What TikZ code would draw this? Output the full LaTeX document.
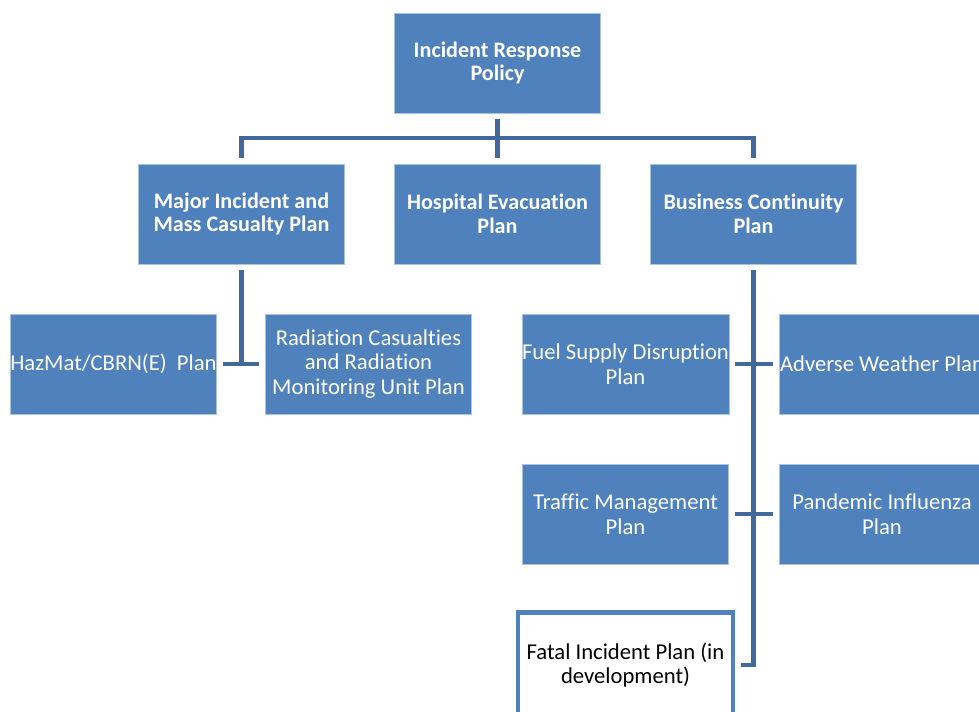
\documentclass[tikz,border=0pt]{standalone}
\usepackage{fontspec}
\setmainfont[Ligatures=NoCommon]{Carlito}
\usetikzlibrary{positioning}
\definecolor{planblue}{RGB}{79,129,189}
\definecolor{linkblue}{RGB}{65,105,158}
\definecolor{planedge}{RGB}{170,195,225}

\begin{document}
\begin{tikzpicture}[x=0.02cm,y=-0.02cm,
    plan/.style={draw=planedge,line width=0.4pt,fill=planblue,text=white,align=center,
      minimum width=4.12cm,minimum height=2cm,inner sep=0pt,
      font=\fontsize{12.9}{14}\selectfont},
    head/.style={plan,font=\bfseries\fontsize{12.6}{13.6}\selectfont},
    draft/.style={plan,draw=planblue,line width=2.3pt,fill=white,text=black,
      minimum width=4.3cm,minimum height=2.1cm},
    link/.style={draw=linkblue,line width=2.3pt,shorten <=3.4pt,shorten >=3.4pt}]
  \clip (0,0) rectangle (979,712);
  % top of the tree
  \node[head] (policy) at (497.5,63) {Incident Response\\Policy};
  \node[head] (major) at (241.5,214) {Major Incident and\\Mass Casualty Plan};
  \node[head] (hospital) at (497.5,214) {Hospital Evacuation\\Plan};
  \node[head] (continuity) at (753.5,214) {Business Continuity\\Plan};
  % plans under major incident
  \node[plan] (hazmat) at (113.5,364) {HazMat/CBRN(E)\ \ Plan};
  \node[plan] (radiation) at (368.5,364) {Radiation Casualties\\and Radiation\\Monitoring Unit Plan};
  % plans under business continuity
  \node[plan] (fuel) at (625.5,364) {Fuel Supply Disruption\\Plan};
  \node[plan] (weather) at (882,364) {Adverse Weather Plan};
  \node[plan] (traffic) at (625.5,514) {Traffic Management\\Plan};
  \node[plan] (flu) at (882,514) {Pandemic Influenza\\Plan};
  \node[draft] (fatal) at (625.5,665) {Fatal Incident Plan (in\\development)};
  % connectors
  \coordinate (bar) at (497.5,138);
  \draw[link] (policy) -- (hospital);
  \draw[link] (major.north) |- (bar) -| (continuity.north);
  \draw[link,shorten >=0pt] (major.south) -- (major.south |- hazmat.east);
  \draw[link] (hazmat.east) -- (radiation.west);
  \draw[link] (continuity.south) |- (fatal.east);
  \draw[link] (fuel.east) -- (weather.west);
  \draw[link] (traffic.east) -- (flu.west);
\end{tikzpicture}
\end{document}
